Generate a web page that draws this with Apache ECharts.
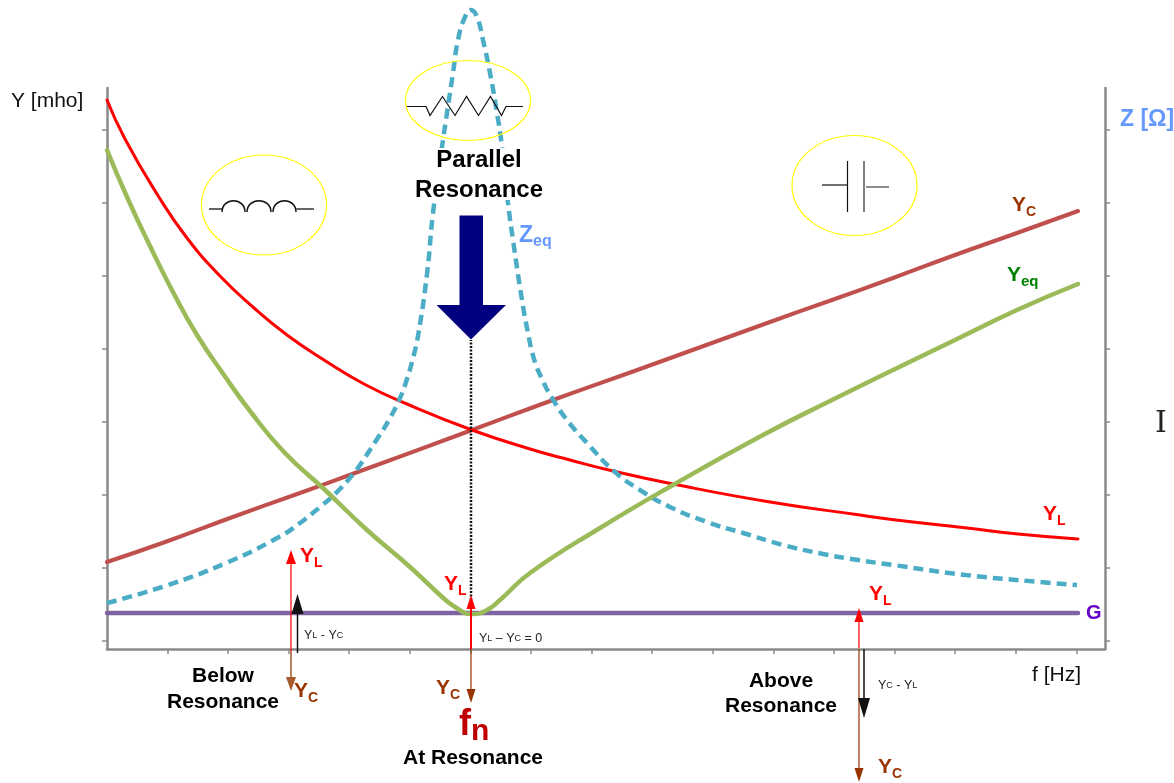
<!DOCTYPE html>
<html>
<head>
<meta charset="utf-8">
<title>Parallel resonance</title>
<script src="https://cdn.jsdelivr.net/npm/echarts@6/dist/echarts.min.js"></script>
<style>
  html, body { margin: 0; padding: 0; background: #fff; }
  #chart { width: 1174px; height: 783px; }
</style>
</head>
<body>
<div id="chart"></div>
<script>
// curves as [f, value]
const yL = [[0,549],[18,510],[50,455],[80,411],[113,373],[147,341],[180,314],[217,289],[257,265],[300,245],[365,219],[423,200],[463,189],[506,178],[566,165],[663,147],[753,134],[789,129],[860,121],[911,115],[971,110]];
const yC = [[0,87],[61,108],[123,131],[193,156],[248,176],[365,219],[446,249],[533,280],[663,327],[725,349],[786,371],[848,394],[910,416],[971,438]];
const yEq = [[0,499],[20,452],[43,403],[67,355],[90,314],[117,274],[143,238],[177,197],[217,160],[260,119],[303,82],[333,54],[348,42],[365,35],[380,39],[393,49],[423,76],[493,121],[566,164],[656,214],[725,249],[786,279],[848,309],[910,339],[971,365]];
const zEq = [[0,46],[58,63],[119,86],[172,112],[193,126],[213,142],[230,157],[247,176],[255,187],[272,213],[282,229],[293,251],[300,270],[306,291],[311,313],[320,375],[326,436],[335,502],[340,536],[346,576],[351,609],[358,632],[364,639],[370,632],[376,609],[383,576],[390,536],[395,502],[401,446],[406,409],[415,349],[421,316],[427,290],[435,270],[445,251],[460,229],[480,206],[508,177],[533,159],[563,142],[600,127],[636,116],[676,104],[716,95],[751,89],[786,84],[859,74],[933,67],[970,64]];
const g = [[0,36],[971,36]];
const resonanceLine = [[364,49],[364,309]];

// axes
const xTicks = [61,121,182,242,303,364,424,485,545,606,667,727,788,848,909,970];
const yTicks = [8,81,154,227,300,373,446,519];

// phasor arrows: [f, from, to]
const belowYL = [184,-3,92];
const belowYC = [184,-3,-35];
const belowDiff = [190.5,-4,45];
const atYL = [364,0,47];
const atYC = [364,0,-47];
const aboveYL = [752,1,34];
const aboveYC = [752,0,-126];
const aboveDiff = [757,0,-59];

const RED = '#ff0000', BROWN = '#993300', BLACK = '#111111';
const AXIS = '#8a8a8a';

function curve(data, color, width, extra) {
  return Object.assign({
    type: 'line', data: data, symbol: 'none', smooth: 0.5, clip: false, silent: true,
    lineStyle: { color: color, width: width, cap: 'round', join: 'round' }
  }, extra || {});
}

function arrow(a, color, w, h, lineWidth) {
  return {
    type: 'line', symbol: 'none', showSymbol: true, clip: false, silent: true, z: 5,
    lineStyle: { color: color, width: lineWidth },
    data: [
      [a[0], a[1]],
      { value: [a[0], a[2]], symbol: 'triangle', symbolSize: [w, h],
        symbolRotate: a[2] > a[1] ? 0 : 180, itemStyle: { color: color, opacity: 1 } }
    ]
  };
}

const FONT = '"Liberation Sans", Arial, sans-serif';

// plain text block
function txt(x, y, text, size, weight, color, extra) {
  return {
    type: 'text', x: x, y: y, z: 20, silent: true,
    style: Object.assign({ text: text, font: weight + ' ' + size + 'px ' + FONT, fill: color,
      align: 'center', verticalAlign: 'middle' }, extra || {})
  };
}

// letter with a subscript, left aligned at x
function sub(x, y, main, low, size, subSize, weight, color) {
  return {
    type: 'text', x: x, y: y, z: 20, silent: true,
    style: {
      text: '{m|' + main + '}{s|' + low + '}', align: 'left', verticalAlign: 'middle',
      rich: {
        m: { fontFamily: 'Liberation Sans', fontSize: size, fontWeight: weight, fill: color, color: color, lineHeight: size + 3, verticalAlign: 'top' },
        s: { fontFamily: 'Liberation Sans', fontSize: subSize, fontWeight: weight, fill: color, color: color, lineHeight: size + 3, verticalAlign: 'bottom' }
      }
    }
  };
}

function small(x, y, text) {
  const font = { fontFamily: 'Liberation Sans', color: '#222', fill: '#222' };
  return { type: 'text', x: x, y: y, z: 20, silent: true,
    style: { text: text, verticalAlign: 'middle',
      rich: { a: Object.assign({ fontSize: 12.5 }, font), b: Object.assign({ fontSize: 9 }, font) } } };
}

function ell(cx, cy, rx, ry) {
  return { type: 'ellipse', shape: { cx: cx, cy: cy, rx: rx, ry: ry }, z: 15, silent: true,
    style: { fill: 'none', stroke: '#ffff00', lineWidth: 1.2 } };
}
function wire(points, color, width) {
  return { type: 'polyline', shape: { points: points }, z: 16, silent: true,
    style: { fill: 'none', stroke: color || '#111', lineWidth: width || 1.2 } };
}
function hump(x1, x2) {
  return { type: 'bezierCurve', z: 16, silent: true,
    shape: { x1: x1, y1: 212, x2: x2, y2: 212, cpx1: x1, cpy1: 197, cpx2: x2, cpy2: 197 },
    style: { fill: 'none', stroke: '#111', lineWidth: 1.5 } };
}

const chart = echarts.init(document.getElementById('chart'));

const option = {
  animation: false,
  backgroundColor: '#fff',
  grid: { left: 107, top: 88, width: 998, height: 561, containLabel: false },
  xAxis: {
    type: 'value', min: 0, max: 998,
    splitLine: { show: false },
    axisLabel: { show: false },
    axisLine: { onZero: false, lineStyle: { color: AXIS, width: 2.5 } },
    axisTick: { show: true, length: 5, lineStyle: { color: AXIS, width: 1.5 }, customValues: xTicks }
  },
  yAxis: [
    {
      type: 'value', min: 0, max: 561, position: 'left',
      splitLine: { show: false },
      axisLabel: { show: false },
      axisLine: { show: true, onZero: false, lineStyle: { color: AXIS, width: 2.5 } },
      axisTick: { show: true, length: 5, lineStyle: { color: AXIS, width: 1.5 }, customValues: yTicks }
    },
    {
      type: 'value', min: 0, max: 561, position: 'right',
      splitLine: { show: false },
      axisLabel: { show: false },
      axisLine: { show: true, onZero: false, lineStyle: { color: AXIS, width: 2.5 } },
      axisTick: { show: true, length: 5, lineStyle: { color: AXIS, width: 1.5 }, customValues: yTicks }
    }
  ],
  series: [
    curve(g, '#8064a2', 4.5, { smooth: false, z: 2 }),
    curve(yC, '#c0504d', 4, { z: 3 }),
    curve(yL, RED, 3, { z: 3 }),
    curve(zEq, '#4bacc6', 4.5, { z: 3, lineStyle: { color: '#4bacc6', width: 4.5, type: [10, 6], cap: 'butt' } }),
    curve(yEq, '#9bbb59', 4.5, { z: 4 }),
    curve(resonanceLine, BLACK, 2.5, { smooth: false, z: 4, lineStyle: { color: BLACK, width: 2.5, type: [2, 1.5] } }),
    arrow(belowYL, RED, 10, 14, 1.2),
    arrow(belowYC, '#a65a2e', 10, 14, 1.5),
    arrow(belowDiff, BLACK, 12, 20, 1.5),
    arrow(atYL, RED, 9, 14, 2),
    arrow(atYC, BROWN, 9, 14, 1.2),
    arrow(aboveYL, RED, 9, 14, 1.2),
    arrow(aboveYC, BROWN, 9, 14, 1.2),
    arrow(aboveDiff, BLACK, 12, 20, 1.5)
  ],
  graphic: {
    elements: [
      // white box behind the heading, it cuts the Zeq curve
      { type: 'rect', z: 12, silent: true, shape: { x: 430, y: 148, width: 92, height: 52 }, style: { fill: '#fff' } },

      // circuit symbols
      ell(264, 205, 62.5, 50),
      wire([[209, 209], [222, 209]], '#666', 2),
      hump(222, 245), hump(247, 271), hump(273, 296),
      wire([[296, 209], [314, 209]], '#666', 2),

      ell(468, 100.5, 62.5, 40),
      wire([[407, 106.5], [426, 106.5], [430, 115.5], [442.5, 96.5], [455, 115.5], [466.5, 96.5], [478.5, 115.5], [490.5, 96.5], [501.5, 115.5], [506, 106.5], [523, 106.5]]),

      ell(854.5, 185.5, 62.5, 50),
      wire([[822, 185], [847, 185]]),
      wire([[847.5, 161], [847.5, 212]]),
      wire([[864, 161], [864, 212]], '#555', 1.5),
      wire([[866, 187], [889, 187]], '#666', 1.5),

      // big arrow
      { type: 'polygon', z: 17, silent: true,
        shape: { points: [[459.5, 215.5], [483, 215.5], [483, 305], [506, 305], [471, 339.5], [436.5, 305], [459.5, 305]] },
        style: { fill: '#000080' } },

      // axis titles
      txt(11, 101, 'Y [mho]', 21, 'normal', '#111', { align: 'left' }),
      txt(1032, 675, 'f [Hz]', 21, 'normal', '#111', { align: 'left' }),
      txt(1120, 120, 'Z [Ω]', 23, 'bold', '#6699ff', { align: 'left' }),
      txt(1155, 424, 'I', 30, 'normal', '#222', { align: 'left', font: 'normal 30px "DejaVu Serif"' }),

      // headings
      txt(479, 160, 'Parallel', 24, 'bold', '#000'),
      txt(479, 190, 'Resonance', 24, 'bold', '#000'),
      txt(223, 676, 'Below', 21, 'bold', '#000'),
      txt(223, 702, 'Resonance', 21, 'bold', '#000'),
      txt(781, 681, 'Above', 21, 'bold', '#000'),
      txt(781, 706, 'Resonance', 21, 'bold', '#000'),
      txt(473, 758, 'At Resonance', 21, 'bold', '#000'),

      // curve labels
      sub(1012, 207, 'Y', 'C', 21, 14, 'bold', BROWN),
      sub(1007, 277, 'Y', 'eq', 21, 15, 'bold', '#008000'),
      sub(519, 237, 'Z', 'eq', 23, 16, 'bold', '#6699ff'),
      sub(1043, 516, 'Y', 'L', 21, 14, 'bold', RED),
      txt(1086, 613, 'G', 20, 'bold', '#6600cc', { align: 'left' }),

      // phasor labels
      sub(300, 558, 'Y', 'L', 21, 14, 'bold', RED),
      sub(294, 693, 'Y', 'C', 21, 14, 'bold', BROWN),
      sub(444, 586, 'Y', 'L', 21, 14, 'bold', RED),
      sub(436, 690, 'Y', 'C', 21, 14, 'bold', BROWN),
      sub(869, 596, 'Y', 'L', 21, 14, 'bold', RED),
      sub(878, 769, 'Y', 'C', 21, 14, 'bold', BROWN),
      sub(459, 727, 'f', 'n', 36, 30, 'bold', '#c00000'),

      // difference labels
      small(304, 636, '{a|Y}{b|L}{a| - Y}{b|C}'),
      small(479, 639, '{a|Y}{b|L}{a| – Y}{b|C}{a| = 0}'),
      small(878, 686, '{a|Y}{b|C}{a| - Y}{b|L}')
    ]
  }
};

chart.setOption(option);
</script>
</body>
</html>
